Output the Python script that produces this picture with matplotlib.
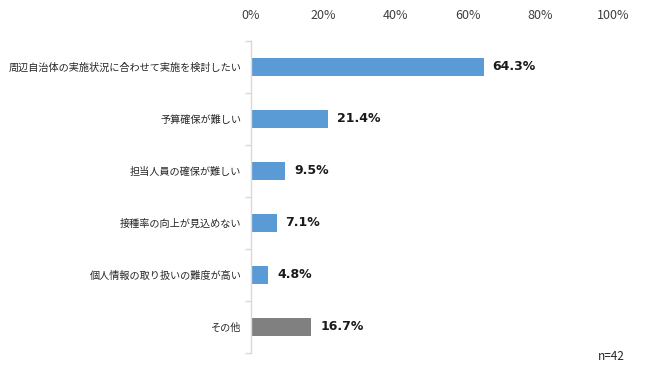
import matplotlib
matplotlib.use("Agg")
import matplotlib.pyplot as plt
import numpy as np

plt.rcParams['font.family'] = ['Noto Sans CJK JP', 'DejaVu Sans']

categories = [
    "周辺自治体の実施状況に合わせて実施を検討したい",
    "予算確保が難しい",
    "担当人員の確保が難しい",
    "接種率の向上が見込めない",
    "個人情報の取り扱いの難度が高い",
    "その他",
]
values = [64.3, 21.4, 9.5, 7.1, 4.8, 16.7]
colors = ["#5B9BD5"] * 5 + ["#808080"]
xticks = [0, 20, 40, 60, 80, 100]
xticklabels = ["0%", "20%", "40%", "60%", "80%", "100%"]

fig = plt.figure(figsize=(6.5, 3.75), dpi=100)
ax = fig.add_axes([251/650, 1 - 353/375, (613-251)/650, (353-41)/375])

y = np.arange(len(categories))
ax.barh(y, values, height=0.35, color=colors)
ax.set_ylim(len(categories) - 0.5, -0.5)
ax.set_xlim(0, 100)

for yi, v in zip(y, values):
    ax.text(v + 2.4, yi, f"{v:.1f}%", va="center", ha="left",
            fontsize=9, fontweight="bold", color="#1a1a1a",
            family=["DejaVu Sans"])

ax.xaxis.tick_top()
ax.set_xticks(xticks)
ax.set_xticklabels(xticklabels, fontsize=9, color="#404040")
ax.tick_params(axis="x", length=0, pad=14)

ax.set_yticks(y)
ax.set_yticklabels(categories, fontsize=7.3, color="#262626")
ax.tick_params(axis="y", which="major", length=0, pad=7)
ax.set_yticks(np.arange(-0.5, len(categories), 1.0), minor=True)
ax.tick_params(axis="y", which="minor", length=4, color="#D9D9D9", width=1)

for s in ["top", "right", "bottom"]:
    ax.spines[s].set_visible(False)
ax.spines["left"].set_color("#D9D9D9")
ax.spines["left"].set_linewidth(1)

fig.text(625/650, 1 - 356/375, "n=42", ha="right", va="center",
         fontsize=8.5, color="#262626")

fig.savefig("out.png", dpi=100)
